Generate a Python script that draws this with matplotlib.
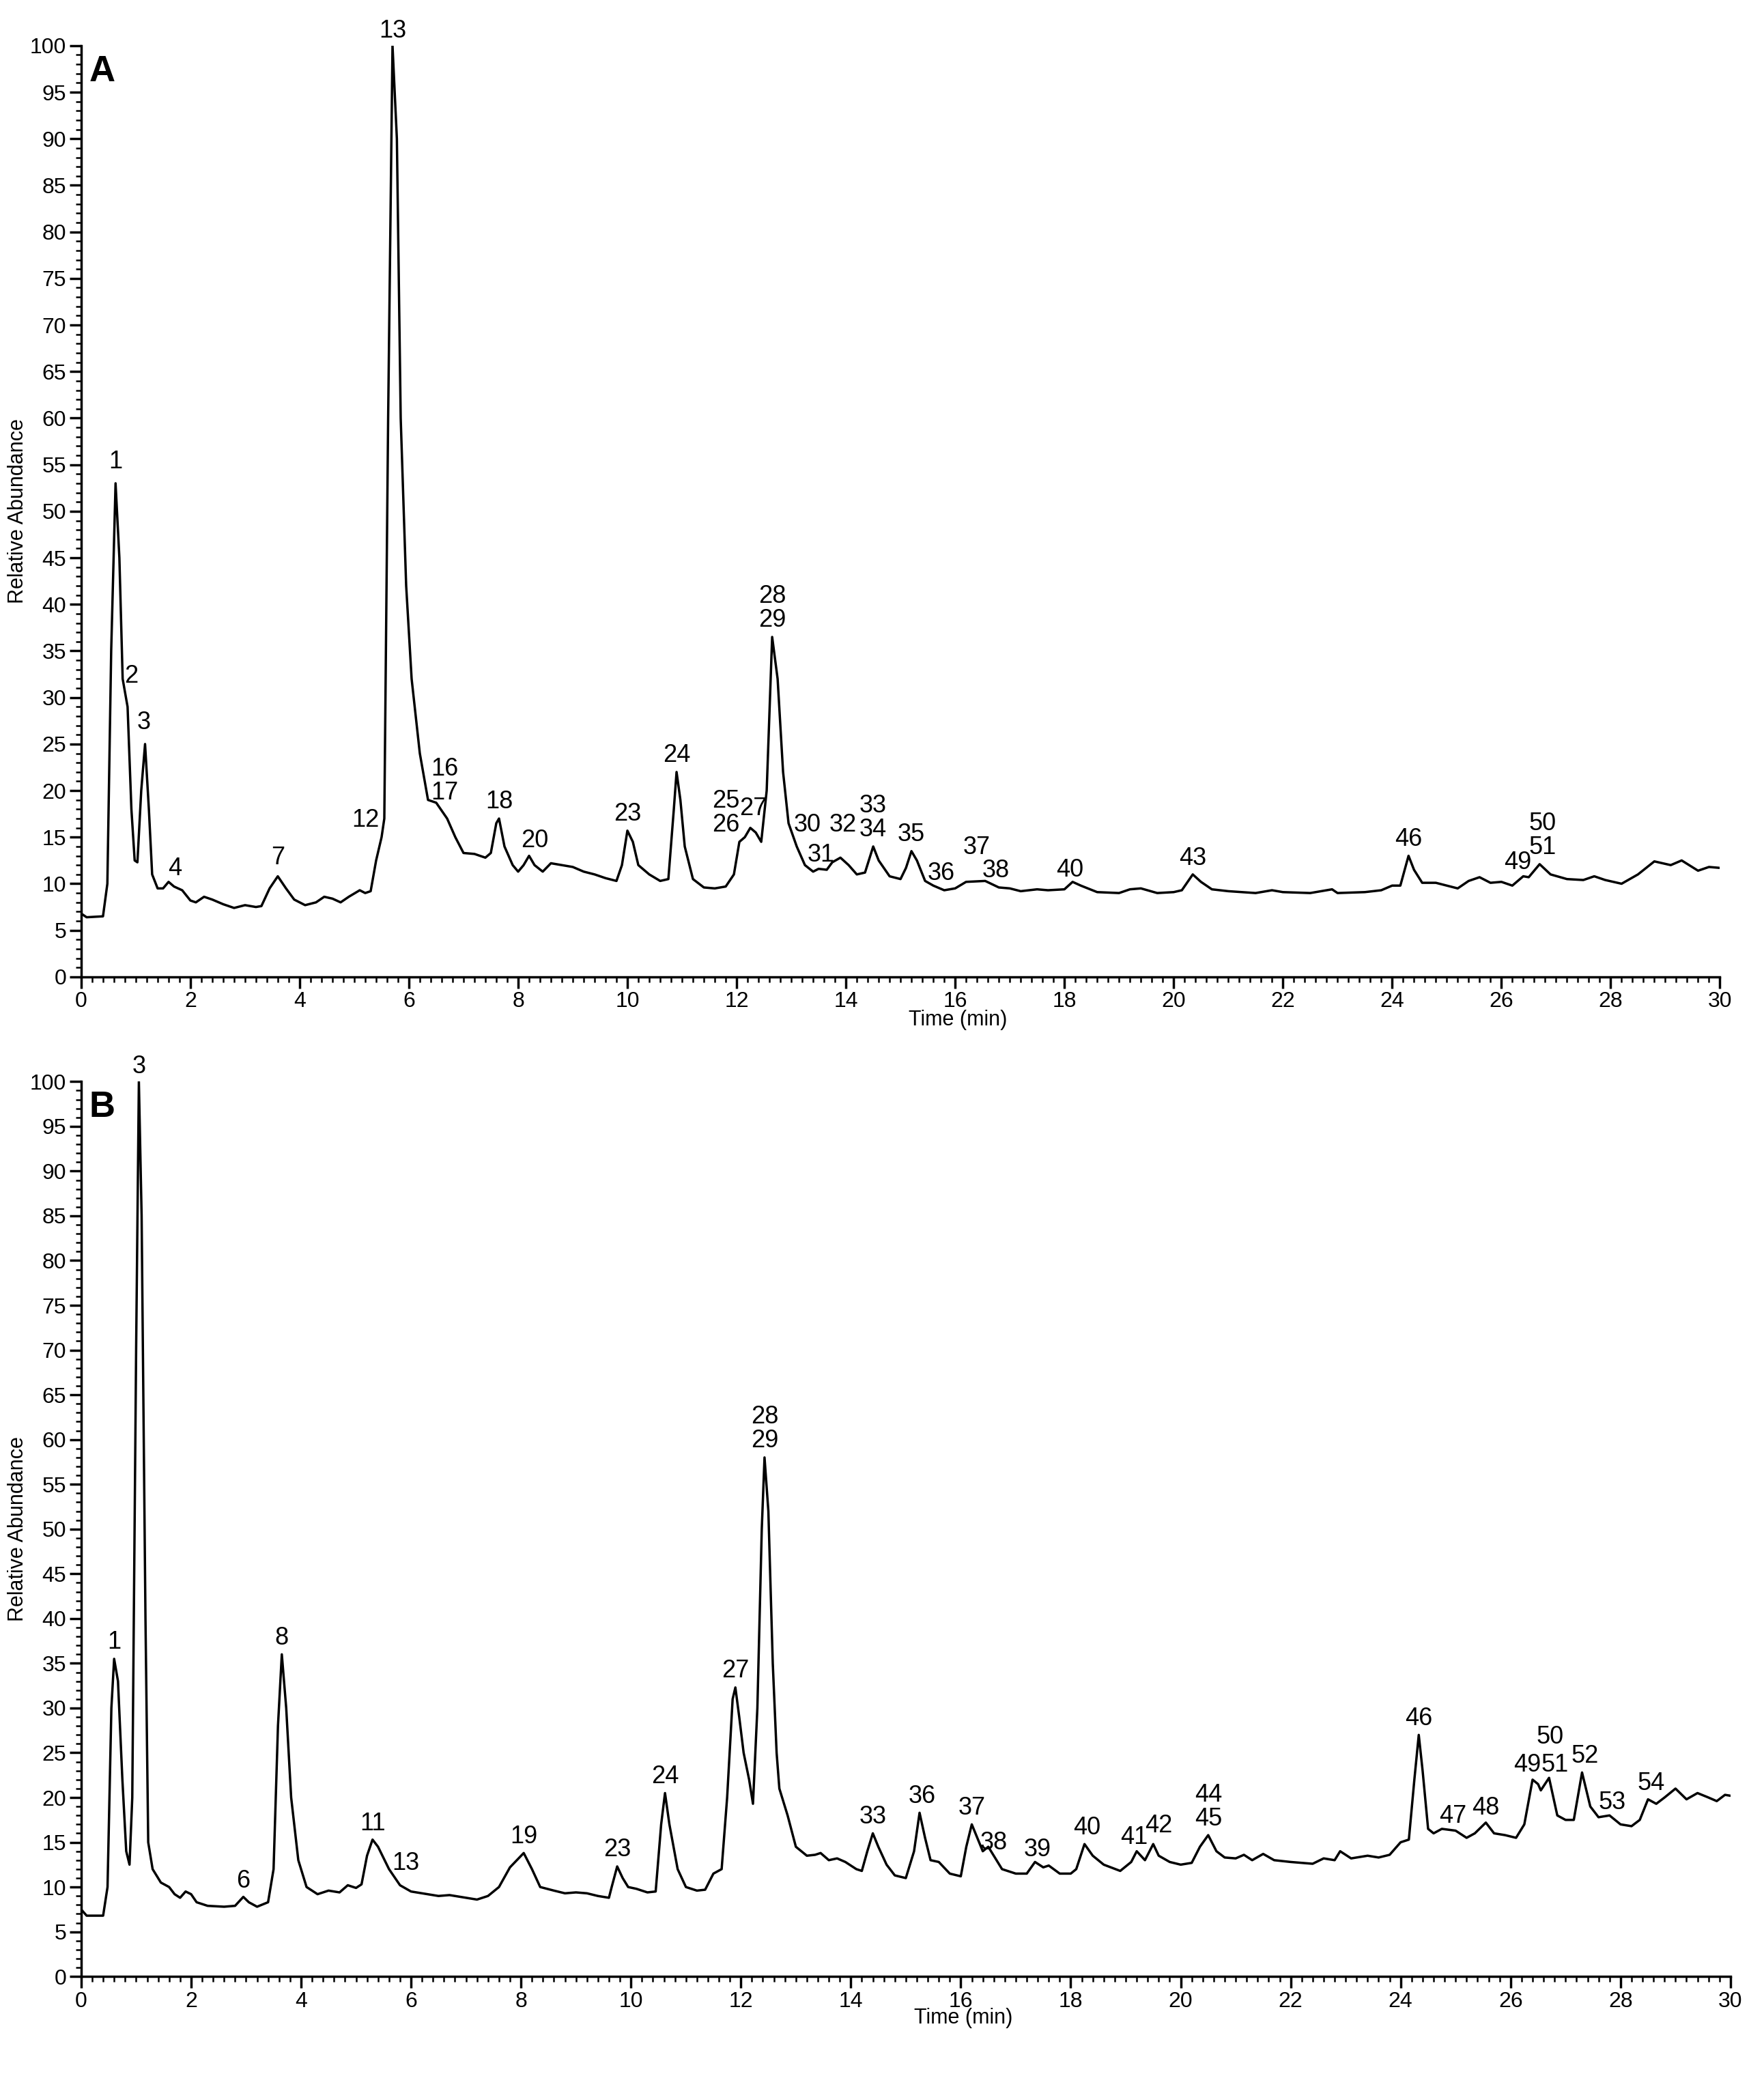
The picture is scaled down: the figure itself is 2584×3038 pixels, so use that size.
import matplotlib
matplotlib.use("Agg")
import matplotlib.pyplot as plt
from matplotlib.ticker import MultipleLocator

plt.rcParams['font.family'] = ['Liberation Sans', 'DejaVu Sans']

# Cromatograma A: (tiempo, abundancia)
tA = [0, 0.1, 0.4, 0.48, 0.55, 0.63, 0.7, 0.76, 0.85, 0.92, 0.98, 1.03, 1.1, 1.17, 1.24, 1.3, 1.4, 1.5, 1.6, 1.7,
      1.85, 2.0, 2.1, 2.25, 2.4, 2.6, 2.8, 3.0, 3.2, 3.3, 3.45, 3.6, 3.75, 3.9, 4.1, 4.3, 4.45, 4.6, 4.75, 4.9,
      5.1, 5.2, 5.3, 5.4, 5.5, 5.55, 5.62, 5.7, 5.78, 5.85, 5.95, 6.05, 6.2, 6.35, 6.5, 6.7, 6.85, 7.0, 7.2, 7.4,
      7.5, 7.6, 7.65, 7.75, 7.9, 8.0, 8.1, 8.2, 8.3, 8.45, 8.6, 8.8, 9.0, 9.2, 9.4, 9.6, 9.8, 9.9, 10.0, 10.1,
      10.2, 10.4, 10.6, 10.75, 10.85, 10.9, 10.97, 11.05, 11.2, 11.4, 11.6, 11.8, 11.95, 12.05, 12.15, 12.25,
      12.35, 12.45, 12.55, 12.65, 12.75, 12.85, 12.95, 13.1, 13.25, 13.4, 13.5, 13.65, 13.75, 13.9, 14.05, 14.2,
      14.35, 14.5, 14.6, 14.8, 15.0, 15.1, 15.2, 15.3, 15.45, 15.6, 15.8, 16.0, 16.2, 16.55, 16.8, 17.0, 17.2,
      17.5, 17.7, 18.0, 18.15, 18.3, 18.6, 19.0, 19.2, 19.4, 19.7, 20.0, 20.15, 20.35, 20.5, 20.7, 21.0, 21.5,
      21.8, 22.0, 22.5, 22.9, 23.0, 23.5, 23.8, 24.0, 24.15, 24.3, 24.4, 24.55, 24.8, 25.0, 25.2, 25.4, 25.6,
      25.8, 26.0, 26.2, 26.4, 26.5, 26.7, 26.9, 27.2, 27.5, 27.7, 27.9, 28.2, 28.5, 28.8, 29.1, 29.3, 29.6,
      29.8, 30]
yA = [6.8, 6.4, 6.5, 10, 35, 53, 45, 32, 29, 18, 12.5, 12.3, 20, 25, 18, 11, 9.5, 9.5, 10.2, 9.7,
      9.3, 8.2, 8.0, 8.6, 8.3, 7.8, 7.4, 7.7, 7.5, 7.6, 9.5, 10.8, 9.5, 8.3, 7.7, 8.0, 8.6, 8.4, 8.0, 8.6,
      9.3, 9.0, 9.2, 12.5, 15, 17, 60, 100, 90, 60, 42, 32, 24, 19, 18.7, 17, 15, 13.3, 13.2, 12.8,
      13.3, 16.5, 17, 14, 12, 11.3, 12, 13, 12, 11.3, 12.2, 12, 11.8, 11.3, 11.0, 10.6, 10.3, 12, 15.7, 14.5,
      12, 11, 10.3, 10.5, 18, 22, 19, 14, 10.5, 9.6, 9.5, 9.7, 11, 14.5, 15, 16,
      15.5, 14.5, 20, 36.5, 32, 22, 16.5, 14, 12, 11.3, 11.6, 11.5, 12.3, 12.8, 12, 11.0,
      11.2, 14, 12.5, 10.8, 10.5, 11.7, 13.5, 12.5, 10.3, 9.8, 9.3, 9.5, 10.2, 10.3, 9.6, 9.5, 9.2,
      9.4, 9.3, 9.4, 10.2, 9.8, 9.1, 9.0, 9.4, 9.5, 9.0, 9.1, 9.3, 11.0, 10.2, 9.4, 9.2, 9.0,
      9.3, 9.1, 9.0, 9.4, 9.0, 9.1, 9.3, 9.8, 9.8, 13, 11.5, 10.1, 10.1, 9.8, 9.5, 10.3, 10.7,
      10.1, 10.2, 9.8, 10.8, 10.7, 12.1, 11.0, 10.5, 10.4, 10.8, 10.4, 10.0, 11, 12.4, 12.0, 12.5, 11.4,
      11.8, 11.7]

# Cromatograma B
tB = [0, 0.1, 0.4, 0.48, 0.55, 0.6, 0.67, 0.75, 0.82, 0.88, 0.93, 1.0, 1.05, 1.1, 1.17, 1.22, 1.3, 1.45, 1.6,
      1.7, 1.8, 1.9, 2.0, 2.1, 2.3, 2.6, 2.8, 2.95, 3.05, 3.2, 3.4, 3.5, 3.58, 3.65, 3.73, 3.82, 3.95, 4.1,
      4.3, 4.5, 4.7, 4.85, 5.0, 5.1, 5.2, 5.3, 5.4, 5.6, 5.8, 6.0, 6.5, 6.7, 7.0, 7.2, 7.4, 7.6, 7.8, 8.05,
      8.2, 8.35, 8.6, 8.8, 9.0, 9.2, 9.4, 9.6, 9.65, 9.75, 9.85, 9.95, 10.1, 10.3, 10.45, 10.55, 10.62, 10.7,
      10.85, 11.0, 11.2, 11.35, 11.5, 11.65, 11.75, 11.85, 11.9, 11.97, 12.05, 12.15, 12.22, 12.3, 12.38,
      12.43, 12.5, 12.58, 12.65, 12.7, 12.85, 13.0, 13.2, 13.35, 13.45, 13.6, 13.75, 13.9, 14.1, 14.2, 14.3,
      14.4, 14.5, 14.65, 14.8, 15.0, 15.15, 15.25, 15.35, 15.45, 15.6, 15.8, 16.0, 16.1, 16.2, 16.3, 16.4,
      16.5, 16.6, 16.75, 17.0, 17.2, 17.35, 17.5, 17.6, 17.8, 18.0, 18.1, 18.25, 18.4, 18.6, 18.9, 19.1,
      19.2, 19.35, 19.5, 19.6, 19.8, 20.0, 20.2, 20.35, 20.5, 20.65, 20.8, 21.0, 21.15, 21.3, 21.5, 21.7,
      22.0, 22.4, 22.6, 22.8, 22.9, 23.1, 23.4, 23.6, 23.8, 24.0, 24.15, 24.25, 24.33, 24.4, 24.5, 24.6,
      24.75, 25.0, 25.2, 25.35, 25.55, 25.7, 25.9, 26.1, 26.25, 26.4, 26.5, 26.55, 26.7, 26.85, 27.0, 27.15,
      27.3, 27.45, 27.6, 27.8, 28.0, 28.2, 28.35, 28.5, 28.65, 28.8, 29.0, 29.2, 29.4, 29.6, 29.75, 29.9, 30.0]
yB = [7.5, 6.8, 6.8, 10, 30, 35.5, 33, 22, 14, 12.5, 20, 70, 100, 85, 40, 15, 12, 10.5, 10,
      9.2, 8.8, 9.5, 9.2, 8.3, 7.9, 7.8, 7.9, 8.9, 8.3, 7.8, 8.3, 12, 28, 36, 30, 20, 13, 10,
      9.2, 9.6, 9.4, 10.2, 9.9, 10.3, 13.5, 15.3, 14.5, 12, 10.2, 9.5, 9.0, 9.1, 8.8, 8.6, 9.0, 10, 12.2, 13.8,
      12, 10, 9.6, 9.3, 9.4, 9.3, 9.0, 8.8, 10, 12.3, 11, 10, 9.8, 9.4, 9.5, 17, 20.5, 17,
      12, 10, 9.6, 9.7, 11.5, 12, 20, 31, 32.3, 29, 25, 22, 19.3, 30, 50,
      58, 52, 35, 25, 21, 18, 14.5, 13.5, 13.6, 13.8, 13, 13.2, 12.8, 12, 11.8, 14,
      16, 14.5, 12.5, 11.3, 11.0, 14, 18.3, 15.5, 13, 12.8, 11.5, 11.2, 14.5, 17, 15.5, 14,
      14.5, 13.5, 12, 11.5, 11.5, 12.8, 12.2, 12.4, 11.5, 11.5, 12, 14.8, 13.5, 12.5, 11.8, 12.8,
      14, 13, 14.8, 13.5, 12.8, 12.5, 12.7, 14.5, 15.8, 14, 13.3, 13.2, 13.6, 13, 13.7, 13,
      12.8, 12.6, 13.2, 13, 14, 13.2, 13.5, 13.3, 13.6, 15, 15.3, 22, 27, 23, 16.5, 16,
      16.5, 16.3, 15.5, 16, 17.2, 16, 15.8, 15.5, 17, 22, 21.5, 20.8, 22.2, 18, 17.5, 17.5,
      22.8, 19, 17.8, 18, 17, 16.8, 17.5, 19.8, 19.3, 20, 21, 19.8, 20.5, 20, 19.6, 20.3, 20.2]

# Etiquetas de picos: (texto, tiempo, altura)
picosA = [("1", 0.63, 54), ("2", 0.92, 31), ("3", 1.15, 26), ("4", 1.72, 10.3), ("7", 3.6, 11.5),
          ("12", 5.2, 15.5), ("13", 5.7, 100.3), ("16\n17", 6.65, 18.5), ("18", 7.65, 17.5), ("20", 8.3, 13.3),
          ("23", 10.0, 16.2), ("24", 10.9, 22.5), ("25\n26", 11.8, 15), ("27", 12.3, 16.8), ("28\n29", 12.65, 37),
          ("30", 13.3, 15), ("31", 13.55, 11.8), ("32", 13.95, 15), ("33\n34", 14.5, 14.5), ("35", 15.2, 14),
          ("36", 15.75, 9.8), ("37", 16.4, 12.6), ("38", 16.75, 10.1), ("40", 18.1, 10.2), ("43", 20.35, 11.4),
          ("46", 24.3, 13.5), ("49", 26.3, 11), ("50\n51", 26.75, 12.6)]
picosB = [("1", 0.6, 36), ("3", 1.05, 100.3), ("6", 2.95, 9.3), ("8", 3.65, 36.5), ("11", 5.3, 15.7),
          ("13", 5.9, 11.3), ("19", 8.05, 14.3), ("23", 9.75, 12.8), ("24", 10.62, 21), ("27", 11.9, 32.8),
          ("28\n29", 12.43, 58.5), ("33", 14.4, 16.5), ("36", 15.3, 18.8), ("37", 16.2, 17.5), ("38", 16.6, 13.6),
          ("39", 17.4, 12.8), ("40", 18.3, 15.3), ("41", 19.15, 14.2), ("42", 19.6, 15.5), ("44\n45", 20.5, 16.3),
          ("46", 24.33, 27.5), ("47", 24.95, 16.6), ("48", 25.55, 17.5), ("49", 26.3, 22.3), ("50", 26.72, 25.4),
          ("51", 26.8, 22.3), ("52", 27.35, 23.3), ("53", 27.85, 18.1), ("54", 28.55, 20.2)]

fig = plt.figure(figsize=(25.84, 30.38), dpi=100)
axA = fig.add_axes([0.046, 0.529, 0.929, 0.449])
axB = fig.add_axes([0.046, 0.047, 0.935, 0.4315])

for ax, t, y, picos, letra in [(axA, tA, yA, picosA, "A"), (axB, tB, yB, picosB, "B")]:
    ax.plot(t, y, color="black", lw=2.5)
    for txt, x, h in picos:
        ax.text(x, h, txt, ha="center", va="bottom", fontsize=26, linespacing=1.0)
    ax.set_xlim(0, 30)
    ax.set_ylim(0, 100)
    ax.xaxis.set_major_locator(MultipleLocator(2))
    ax.xaxis.set_minor_locator(MultipleLocator(0.2))
    ax.yaxis.set_major_locator(MultipleLocator(5))
    ax.yaxis.set_minor_locator(MultipleLocator(1))
    ax.tick_params(which="major", labelsize=23, length=12, width=2.5)
    ax.tick_params(which="minor", length=6, width=1.8)
    for s in ["top", "right"]:
        ax.spines[s].set_visible(False)
    for s in ["left", "bottom"]:
        ax.spines[s].set_linewidth(2.5)
    ax.set_ylabel("Relative Abundance", fontsize=22, labelpad=2)
    ax.set_xlabel("Time (min)", fontsize=22, labelpad=0)
    ax.xaxis.set_label_coords(0.535, -0.035)
    ax.text(0.005, 0.99, letra, transform=ax.transAxes, fontsize=38, fontweight="bold", va="top")

fig.savefig("out.png", dpi=100)
